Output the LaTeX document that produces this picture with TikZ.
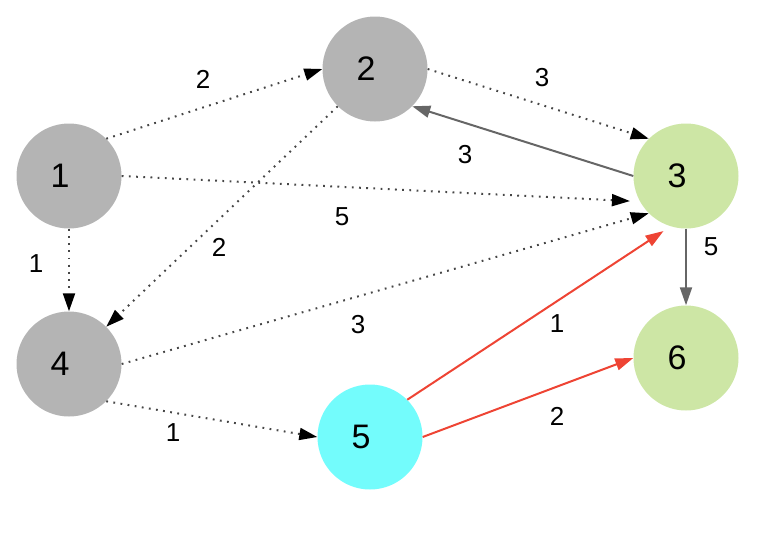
\documentclass[tikz,border=0pt]{standalone}
\usepackage{fontspec}
\setmainfont{Liberation Sans}
\usetikzlibrary{arrows.meta}
\definecolor{ngray}{RGB}{180,180,180}
\definecolor{ngreen}{RGB}{205,230,165}
\definecolor{ncyan}{RGB}{115,252,252}
\definecolor{ered}{RGB}{238,68,52}
\definecolor{egray}{RGB}{102,102,102}
\definecolor{edot}{RGB}{70,70,70}
\tikzset{
  vnode/.style={circle,draw=none,minimum size=105pt,inner sep=0pt},
  vtext/.style={font=\fontsize{34}{34}\selectfont,xshift=-9pt},
  elabel/.style={font=\fontsize{26}{26}\selectfont,inner sep=0pt},
  dotedge/.style={draw=edot,line width=2pt,dash pattern=on 1.8pt off 5.4pt,
    -{Triangle[length=18pt,width=12pt,fill=black,color=black]}},
  grayedge/.style={draw=egray,line width=2pt,-{Triangle[length=18pt,width=12pt]}},
  rededge/.style={draw=ered,line width=2pt,-{Triangle[length=18pt,width=12pt]}},
}
\begin{document}
\begin{tikzpicture}[x=1pt,y=-1pt]
\useasboundingbox (0,0) rectangle (784,538);
\node[vnode,fill=ngray,label={[vtext]center:1}] (n1) at (69,176) {};
\node[vnode,fill=ngray,label={[vtext]center:2}] (n2) at (375,69) {};
\node[vnode,fill=ngreen,label={[vtext]center:3}] (n3) at (686,176) {};
\node[vnode,fill=ngray,label={[vtext]center:4}] (n4) at (69,364) {};
\node[vnode,fill=ncyan,label={[vtext]center:5}] (n5) at (370,437) {};
\node[vnode,fill=ngreen,label={[vtext]center:6}] (n6) at (686,358) {};

\draw[dotedge] (n1.45) -- (n2.west);
\draw[dotedge,shorten >=10pt] (n1.east) -- (n3.209);
\draw[dotedge] (n2.east) -- (n3.135);
\draw[grayedge] (n3.west) -- (n2.-45);
\draw[dotedge] (n1.south) -- (n4.north);
\draw[dotedge] (n2.225) -- (n4.45);
\draw[dotedge] (n4.east) -- (n3.225);
\draw[dotedge] (n4.-45) -- (n5.west);
\draw[grayedge] (n3.south) -- (n6.north);
\draw[rededge,shorten >=8.5pt] (n5.45) -- (n3.253);
\draw[rededge] (n5.east) -- (n6.west);

\node[elabel] (l12) at (203,79) {2};
\node[elabel] (l13) at (342,217) {5};
\node[elabel] (l24) at (219,247) {2};
\node[elabel] (l14) at (36,264) {1};
\node[elabel] (l23) at (542,78) {3};
\node[elabel] (l32) at (465,155) {3};
\node[elabel] (l36) at (711,247) {5};
\node[elabel] (l53) at (557,324) {1};
\node[elabel] (l56) at (557,416) {2};
\node[elabel] (l43) at (358,325) {3};
\node[elabel] (l45) at (173,433) {1};
\end{tikzpicture}
\end{document}
